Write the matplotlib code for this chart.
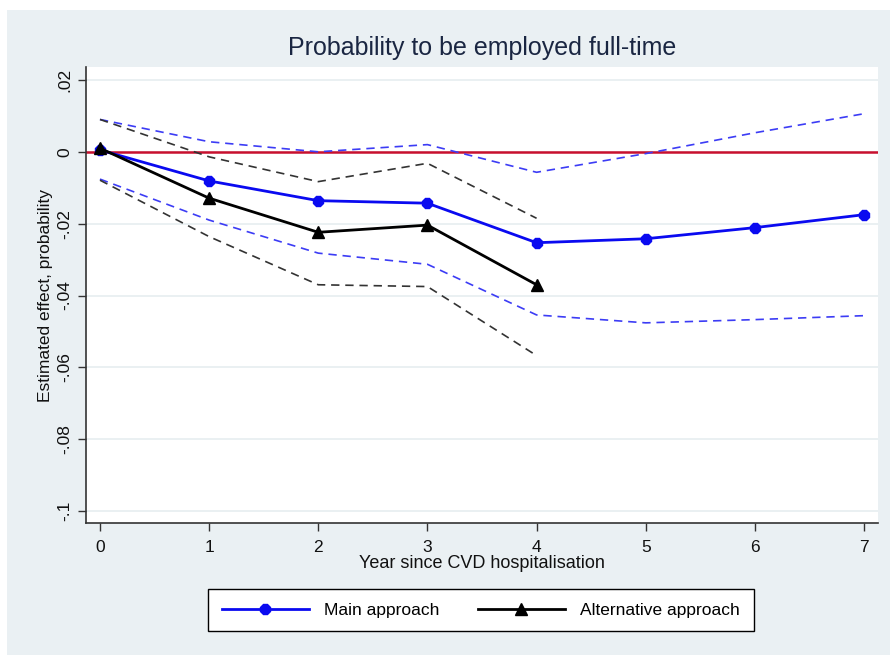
import matplotlib
matplotlib.use("Agg")
import matplotlib.pyplot as plt
from matplotlib.patches import Rectangle
from matplotlib.lines import Line2D

plt.rcParams["font.family"] = ["Liberation Sans", "DejaVu Sans"]

# data
years_main = [0, 1, 2, 3, 4, 5, 6, 7]
main_est = [0.0005, -0.0081, -0.0136, -0.0143, -0.0253, -0.0242, -0.0211, -0.0175]
main_hi = [0.0090, 0.0028, 0.0000, 0.0020, -0.0057, -0.0005, 0.0053, 0.0106]
main_lo = [-0.0076, -0.0190, -0.0282, -0.0313, -0.0454, -0.0476, -0.0467, -0.0456]

years_alt = [0, 1, 2, 3, 4]
alt_est = [0.0010, -0.0129, -0.0224, -0.0204, -0.0370]
alt_hi = [0.0090, -0.0014, -0.0083, -0.0032, -0.0185]
alt_lo = [-0.0079, -0.0236, -0.0370, -0.0375, -0.0567]

yticks = [0.02, 0, -0.02, -0.04, -0.06, -0.08, -0.1]
ytick_labels = [".02", "0", "-.02", "-.04", "-.06", "-.08", "-.1"]

BG = "#eaf0f3"
BLUE = "#0a0af0"
BLUE_CI = "#3c3cf5"

fig = plt.figure(figsize=(8.9, 6.55), dpi=100, facecolor="white")
fig.patches.append(Rectangle((7 / 890, 0), 1, 1 - 10 / 655, transform=fig.transFigure,
                             facecolor=BG, edgecolor="none", zorder=-10))

ax = fig.add_axes([86 / 890, 1 - 523 / 655, (878 - 86) / 890, (523 - 67) / 655])
ax.set_facecolor("white")

ax.set_xlim(-0.128, 7.128)
ax.set_ylim(-0.1033, 0.0236)

for y in yticks:
    ax.axhline(y, color="#e6edf0", lw=1.2, zorder=1)
ax.axhline(0, color="#c8102e", lw=1.8, zorder=2)

ax.plot(years_main, main_hi, color=BLUE_CI, lw=1.2, ls=(0, (5, 3.5)), zorder=3)
ax.plot(years_main, main_lo, color=BLUE_CI, lw=1.2, ls=(0, (5, 3.5)), zorder=3)
ax.plot(years_alt, alt_hi, color="#333333", lw=1.2, ls=(0, (5, 3.5)), zorder=3)
ax.plot(years_alt, alt_lo, color="#333333", lw=1.2, ls=(0, (5, 3.5)), zorder=3)

ax.plot(years_main, main_est, color=BLUE, lw=2, marker="8", ms=8, zorder=4)
ax.plot(years_alt, alt_est, color="black", lw=2, marker="^", ms=8.5, zorder=5)

ax.set_xticks(years_main)
ax.set_yticks(yticks)
ax.set_yticklabels(ytick_labels, rotation=90, va="center")
ax.tick_params(axis="both", direction="out", length=6, width=1, color="#333333",
               labelsize=12.5, labelcolor="#111111")
ax.tick_params(axis="x", pad=6)
ax.tick_params(axis="y", pad=4)

for side in ["top", "right"]:
    ax.spines[side].set_visible(False)
for side in ["left", "bottom"]:
    ax.spines[side].set_color("#333333")
    ax.spines[side].set_linewidth(1.2)

ax.set_xlabel("Year since CVD hospitalisation", fontsize=13, labelpad=0, color="#111111")
ax.set_ylabel("Estimated effect, probability", fontsize=12.5, labelpad=3, color="#111111")
ax.set_title("Probability to be employed full-time", fontsize=18, color="#1a2642", pad=9)

handles = [
    Line2D([], [], color=BLUE, lw=2, marker="8", ms=8),
    Line2D([], [], color="black", lw=2, marker="^", ms=8.5),
]
leg = fig.legend(handles, ["Main approach", "Alternative approach"], loc="center",
                 bbox_to_anchor=(481 / 890, 1 - 610 / 655), ncol=2, fontsize=12.5,
                 frameon=True, fancybox=False, edgecolor="black", facecolor="white",
                 framealpha=1, handlelength=5, columnspacing=2.2, borderpad=0.8,
                 handletextpad=0.9)
leg.get_frame().set_linewidth(1.0)

fig.savefig("out.png", dpi=100, facecolor="white")
